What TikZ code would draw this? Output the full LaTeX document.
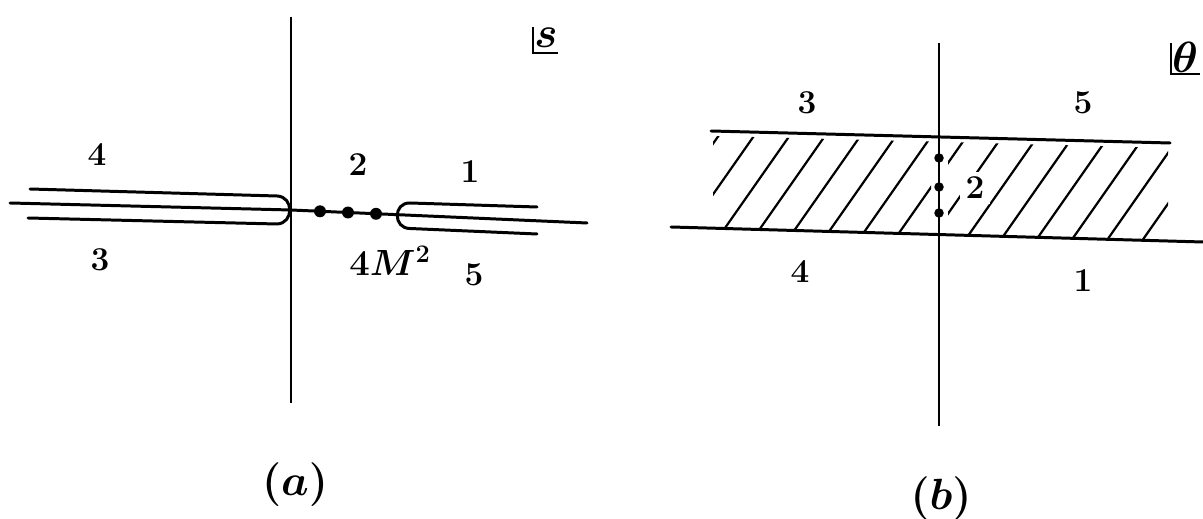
\documentclass[tikz,border=0pt]{standalone}
\begin{document}
\begin{tikzpicture}[x=0.02cm,y=-0.02cm,
  main/.style={line width=1.7pt, line cap=round},
  axisline/.style={line width=1.25pt},
  hatchline/.style={line width=1.25pt, line cap=round},
  dotnode/.style={circle, fill=black, draw=none, inner sep=0pt, minimum size=#1},
  dotnode/.default=6.8pt,
  num/.style={font=\fontsize{19}{22}\selectfont\bfseries, inner sep=0pt},
  caption/.style={font=\fontsize{26}{30}\selectfont\boldmath, inner sep=0pt},
  varlabel/.style={font=\fontsize{24}{28}\selectfont\boldmath, inner sep=0pt}]
\useasboundingbox (0,0) rectangle (1203,519);
% ---------- panel (a) ----------
\draw[axisline] (291,17) -- (291,403);
\draw[main] (30,189) -- (277,196) .. controls (294,196.5) and (294,223.5) .. (277,224) -- (28,218);
\coordinate (la) at (10,203);
\coordinate (oa) at (291,210);
\coordinate (ra) at (587,223);
\draw[main] (la) -- (oa) -- (ra);
\draw[main] (537,207) -- (410,203) .. controls (393,202.5) and (393,228.5) .. (410,228.5) -- (537,234);
\node[dotnode] (d1) at (320,211.3) {};
\node[dotnode] (d2) at (348,212.5) {};
\node[dotnode] (d3) at (376,213.8) {};
\draw[axisline] (533,27) -- (533,53) -- (558,53);
\node[varlabel] (s) at (546,38) {$s$};
\node[num] (a4) at (97,155) {4};
\node[num] (a2) at (358,165) {2};
\node[num] (a1) at (470,172) {1};
\node[num] (a3) at (100,260) {3};
\node[num] (a5) at (474,275) {5};
\node[font=\fontsize{20}{24}\selectfont\boldmath, inner sep=0pt] (m) at (390,261) {$4M^2$};
\node[caption] (ca) at (295,485) {$(a)$};
% ---------- panel (b) ----------
\begin{scope}
  \clip (713,136) -- (931,141.5) -- (931,234) -- (713,228) -- cycle
        (948,142) -- (1168,148) -- (1168,241) -- (948,235) -- cycle;
  \foreach \k in {-3,...,13} {
    \pgfmathsetmacro{\xo}{725+35.5*\k}
    \draw[hatchline] (\xo-49,298) -- (\xo+119,58);
  }
\end{scope}
\draw[main] (711,131) -- (1170,143);
\draw[main] (671,227) -- (1203,242);
\draw[axisline] (939,43) -- (939,426);
\node[dotnode=5.4pt] (e1) at (939,158) {};
\node[dotnode=5.4pt] (e2) at (939,187) {};
\node[dotnode=5.4pt] (e3) at (939,213) {};
\node[num, fill=white, inner sep=3pt] (b2) at (975,188) {2};
\node[num] (b3) at (807,103) {3};
\node[num] (b5) at (1083,103) {5};
\node[num] (b4) at (800,272) {4};
\node[num] (b1) at (1083,281) {1};
\draw[axisline] (1171,43) -- (1171,74) -- (1200,74);
\node[varlabel] (th) at (1185,57) {$\theta$};
\node[caption] (cb) at (941,499) {$(b)$};
\end{tikzpicture}
\end{document}
